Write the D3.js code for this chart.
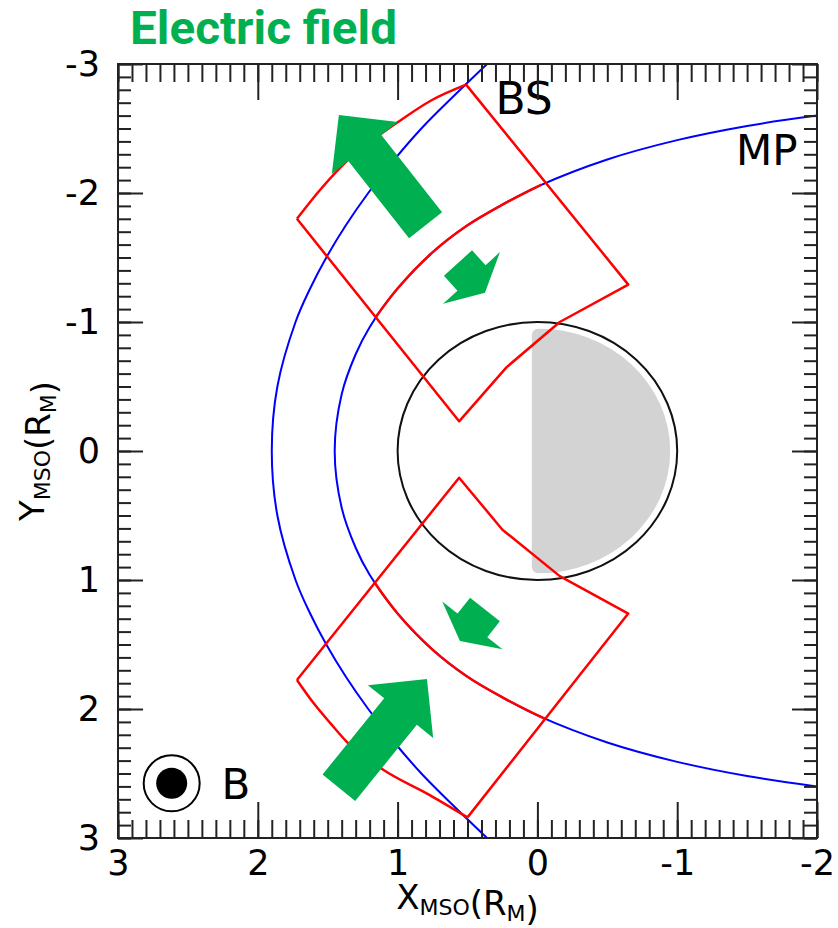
<!DOCTYPE html>
<html>
<head>
<meta charset="utf-8">
<script src="https://cdn.jsdelivr.net/npm/d3@7"></script>
<style>
  body { margin: 0; background: #fff; }
  svg { display: block; }
</style>
</head>
<body>
<div id="chart"></div>
<script>
// Tick values of the two axes
const xMajor = [3, 2, 1, 0, -1, -2];
const yMajor = [-3, -2, -1, 0, 1, 2, 3];

// Bow shock (blue outer curve) [X, Y]
const bowShock = [
  [0.36, -3], [0.60, -2.75], [0.83, -2.5], [1.03, -2.25], [1.21, -2],
  [1.37, -1.75], [1.51, -1.5], [1.63, -1.25], [1.73, -1], [1.86, -0.5],
  [1.90, 0],
  [1.86, 0.5], [1.73, 1], [1.63, 1.25], [1.51, 1.5], [1.37, 1.75],
  [1.21, 2], [1.03, 2.25], [0.83, 2.5], [0.60, 2.75], [0.36, 3]
];

// Magnetopause (blue inner curve)
const magnetopause = [
  [-2, -2.60], [-1.5, -2.52], [-1, -2.41], [-0.5, -2.26], [0, -2.05],
  [0.25, -1.91], [0.5, -1.75], [0.75, -1.54], [1.0, -1.26], [1.2, -0.96],
  [1.3, -0.75], [1.4, -0.44], [1.45, 0], [1.4, 0.44], [1.3, 0.75],
  [1.2, 0.96], [1.0, 1.26], [0.75, 1.54], [0.5, 1.75], [0.25, 1.91],
  [0, 2.05], [-0.5, 2.26], [-1, 2.41], [-1.5, 2.52], [-2, 2.60]
];

// Red boxes: straight sides and bent outer side, upper (Y<0) and lower (Y>0)
const upperBoxSides = [
  [1.72, -1.80], [0.56, -0.23], [0.22, -0.65], [-0.16, -1.00],
  [-0.65, -1.29], [0.51, -2.84]
];
const upperBoxOuter = [
  [1.72, -1.80], [1.555, -2.023], [1.376, -2.233], [0.997, -2.55], [0.754, -2.721], [0.51, -2.84]
];
const upperBoxInner = [
  [-0.03, -2.065], [0.25, -1.91], [0.5, -1.75], [0.75, -1.54], [1.0, -1.26], [1.155, -1.04]
];
const lowerBoxSides = [
  [1.72, 1.775], [0.56, 0.207], [0.25, 0.61], [-0.16, 0.97],
  [-0.65, 1.26], [0.50, 2.84]
];
const lowerBoxOuter = [
  [1.72, 1.775], [1.60, 1.956], [1.48, 2.111], [1.365, 2.253],
  [1.10, 2.473], [0.77, 2.667], [0.50, 2.84]
];
const lowerBoxInner = [
  [-0.055, 2.077], [0.25, 1.91], [0.5, 1.75], [0.75, 1.54], [1.0, 1.26], [1.165, 1.02]
];

// Electric field arrows: [tail, tip] in data coordinates
const bigArrows = [
  [[0.80, -1.75], [1.42, -2.605]],
  [[1.42, 2.61], [0.79, 1.767]]
];
const smallArrows = [
  [[0.568, -1.457], [0.375, -1.227]],
  [[0.375, 1.229], [0.554, 1.473]]
];

// Planet radius and night-side shading radius (R_M)
const planetR = 1;
const nightR = 0.95;

const W = 838, H = 928;
const margin = { left: 118, top: 64, right: 21, bottom: 90 };
const green = "#00B050";

const svg = d3.select("#chart").append("svg")
  .attr("width", W).attr("height", H);

const x = d3.scaleLinear().domain([3, -2]).range([margin.left, W - margin.right]);
const y = d3.scaleLinear().domain([-3, 3]).range([margin.top, H - margin.bottom]);

svg.append("defs").append("clipPath").attr("id", "plot")
  .append("rect")
  .attr("x", x(3)).attr("y", y(-3))
  .attr("width", x(-2) - x(3)).attr("height", y(3) - y(-3));

const plot = svg.append("g").attr("clip-path", "url(#plot)");

// Night side shading
const ns = svg.select("defs").append("clipPath").attr("id", "night");
ns.append("ellipse")
  .attr("cx", x(0)).attr("cy", y(0))
  .attr("rx", x(-nightR) - x(0)).attr("ry", y(nightR) - y(0));
plot.append("rect")
  .attr("clip-path", "url(#night)")
  .attr("x", x(0.04)).attr("y", y(-nightR))
  .attr("width", x(-1) - x(0.04)).attr("height", y(nightR) - y(-nightR))
  .attr("rx", 7)
  .attr("fill", "#d3d3d3");

// Planet outline
plot.append("ellipse")
  .attr("cx", x(0)).attr("cy", y(0))
  .attr("rx", x(-planetR) - x(0)).attr("ry", y(planetR) - y(0))
  .attr("fill", "none").attr("stroke", "#111").attr("stroke-width", 2);

const smooth = d3.line().x(d => x(d[0])).y(d => y(d[1]))
  .curve(d3.curveCatmullRom.alpha(0.5));
const bent = d3.line().x(d => x(d[0])).y(d => y(d[1]))
  .curve(d3.curveMonotoneX);
const straight = d3.line().x(d => x(d[0])).y(d => y(d[1]));

// Boundaries
[bowShock, magnetopause].forEach(function (d) {
  plot.append("path").attr("d", smooth(d))
    .attr("fill", "none").attr("stroke", "#0000ff").attr("stroke-width", 2);
});

// Red boxes
[upperBoxSides, lowerBoxSides].forEach(function (d) {
  plot.append("path").attr("d", straight(d))
    .attr("fill", "none").attr("stroke", "#ff0000").attr("stroke-width", 2.5)
    .attr("stroke-linejoin", "round");
});
[upperBoxOuter, lowerBoxOuter].forEach(function (d) {
  plot.append("path").attr("d", bent(d))
    .attr("fill", "none").attr("stroke", "#ff0000").attr("stroke-width", 2.5);
});
[upperBoxInner, lowerBoxInner].forEach(function (d) {
  plot.append("path").attr("d", smooth(d))
    .attr("fill", "none").attr("stroke", "#ff0000").attr("stroke-width", 2.5);
});

// Block arrows
function arrowPoints(a, shaft, head, headLen) {
  const p0 = [x(a[0][0]), y(a[0][1])];
  const p1 = [x(a[1][0]), y(a[1][1])];
  const len = Math.hypot(p1[0] - p0[0], p1[1] - p0[1]);
  const u = [(p1[0] - p0[0]) / len, (p1[1] - p0[1]) / len];
  const n = [-u[1], u[0]];
  const neck = [p1[0] - u[0] * headLen, p1[1] - u[1] * headLen];
  const off = (p, w) => [p[0] + n[0] * w, p[1] + n[1] * w];
  return [
    off(p0, shaft / 2), off(neck, shaft / 2), off(neck, head / 2), p1,
    off(neck, -head / 2), off(neck, -shaft / 2), off(p0, -shaft / 2)
  ];
}
bigArrows.forEach(function (a) {
  plot.append("polygon")
    .attr("points", arrowPoints(a, 42, 84, 42).map(p => p.join(",")).join(" "))
    .attr("fill", green);
});
smallArrows.forEach(function (a) {
  plot.append("polygon")
    .attr("points", arrowPoints(a, 38, 77, 20).map(p => p.join(",")).join(" "))
    .attr("fill", green);
});

// B out of the page symbol
plot.append("circle").attr("cx", x(2.616)).attr("cy", y(2.576)).attr("r", 28)
  .attr("fill", "none").attr("stroke", "#000").attr("stroke-width", 2);
plot.append("circle").attr("cx", x(2.616)).attr("cy", y(2.576)).attr("r", 15.5)
  .attr("fill", "#000");

const font = "DejaVu Sans";
plot.append("text").attr("x", x(2.26)).attr("y", y(2.70))
  .attr("font-family", font).attr("font-size", 42).text("B");
plot.append("text").attr("x", x(0.30)).attr("y", y(-2.612))
  .attr("font-family", font).attr("font-size", 44).text("BS");
plot.append("text").attr("x", x(-1.42)).attr("y", y(-2.217))
  .attr("font-family", font).attr("font-size", 42).text("MP");

// Axes: inward ticks on all four sides
const xMinor = d3.range(-20, 31).map(i => i / 10);
const yMinor = d3.range(-30, 31).map(i => i / 10);
const fmt = d => String(d);

function drawAxis(axis, transform, labelled) {
  const g = svg.append("g").attr("transform", transform).call(axis);
  g.select(".domain").remove();
  g.selectAll("line").attr("stroke", "#222").attr("stroke-width", 2);
  g.attr("font-family", font).attr("font-size", 35);
  g.selectAll("text").attr("fill", "#000");
  if (!labelled) g.selectAll("text").remove();
  return g;
}

const bottomT = `translate(0,${y(3)})`, topT = `translate(0,${y(-3)})`;
const leftT = `translate(${x(3)},0)`, rightT = `translate(${x(-2)},0)`;

drawAxis(d3.axisBottom(x).tickValues(xMinor).tickSize(-18).tickFormat(""), bottomT, false);
drawAxis(d3.axisBottom(x).tickValues(xMajor).tickSize(-36).tickPadding(12).tickFormat(fmt), bottomT, true);
drawAxis(d3.axisTop(x).tickValues(xMinor).tickSize(-18).tickFormat(""), topT, false);
drawAxis(d3.axisTop(x).tickValues(xMajor).tickSize(-36).tickFormat(""), topT, false);
drawAxis(d3.axisLeft(y).tickValues(yMinor).tickSize(-13).tickFormat(""), leftT, false);
drawAxis(d3.axisLeft(y).tickValues(yMajor).tickSize(-25).tickPadding(18).tickFormat(fmt), leftT, true);
drawAxis(d3.axisRight(y).tickValues(yMinor).tickSize(-13).tickFormat(""), rightT, false);
drawAxis(d3.axisRight(y).tickValues(yMajor).tickSize(-25).tickFormat(""), rightT, false);

// Frame
svg.append("rect")
  .attr("x", x(3)).attr("y", y(-3))
  .attr("width", x(-2) - x(3)).attr("height", y(3) - y(-3))
  .attr("fill", "none").attr("stroke", "#222").attr("stroke-width", 2);

// Axis titles with subscripts
function subLabel(t) {
  t.attr("font-family", font).attr("font-size", 34).attr("text-anchor", "middle");
  return function (main, sub) {
    t.append("tspan").text(main);
    t.append("tspan").attr("font-size", 22).attr("dy", 6).text(sub);
    t.append("tspan").attr("dy", -6).text("");
  };
}
const xt = svg.append("text").attr("x", (x(3) + x(-2)) / 2).attr("y", 909);
const addX = subLabel(xt);
addX("X", "MSO"); addX("(R", "M"); xt.append("tspan").text(")");

const yt = svg.append("text")
  .attr("transform", `translate(44,${(y(-3) + y(3)) / 2}) rotate(-90)`);
const addY = subLabel(yt);
addY("Y", "MSO"); addY("(R", "M"); yt.append("tspan").text(")");

// Title
svg.append("text")
  .attr("x", 130).attr("y", 44)
  .attr("font-family", "Roboto").attr("font-weight", 700).attr("font-size", 46)
  .attr("textLength", 267).attr("lengthAdjust", "spacingAndGlyphs")
  .attr("fill", green)
  .text("Electric field");
</script>
</body>
</html>
